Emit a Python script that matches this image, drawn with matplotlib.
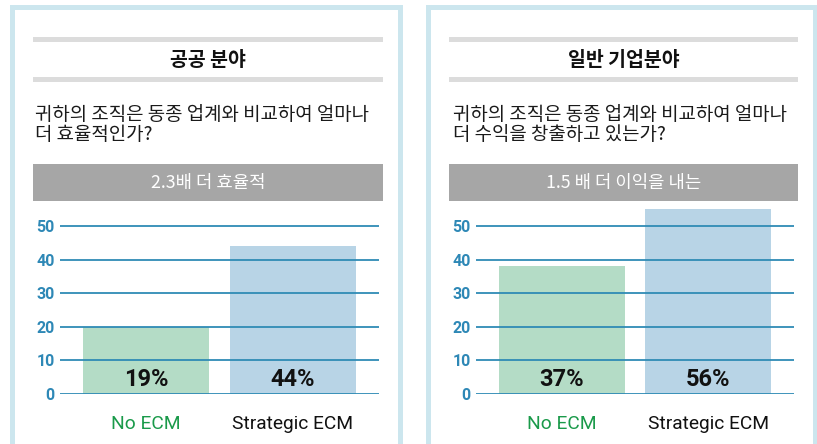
import matplotlib
matplotlib.use("Agg")
import matplotlib.pyplot as plt
from matplotlib.patches import Rectangle

# ---- data ----
categories = ["No ECM", "Strategic ECM"]
public_values = [20, 44]
public_labels = ["19%", "44%"]
corp_values = [38, 55]
corp_labels = ["37%", "56%"]
yticks = [0, 10, 20, 30, 40, 50]
titles = ["공공 분야", "일반 기업분야"]
questions = [["귀하의 조직은 동종 업계와 비교하여 얼마나", "더 효율적인가?"],
             ["귀하의 조직은 동종 업계와 비교하여 얼마나", "더 수익을 창출하고 있는가?"]]
banners = ["2.3배 더 효율적", "1.5 배 더 이익을 내는"]

W, H = 817, 444
fig = plt.figure(figsize=(W / 100, H / 100), dpi=100)
fig.patch.set_facecolor("white")

KR = ["Noto Sans CJK KR", "DejaVu Sans"]
COND = ["Roboto", "DejaVu Sans"]

BORDER = "#cce6ee"
GRAYLINE = "#dcdcdc"
BANNER = "#a6a6a6"
GRID = "#2f8bb5"
TICK = "#2e88b6"
GREEN_BAR = "#b4dcc6"
BLUE_BAR = "#b8d4e6"


def fx(px):
    return px / W


def fy(py):
    return 1 - py / H


def frect(x0, y0, x1, y1, color, **kw):
    fig.patches.append(Rectangle((fx(x0), fy(y1)), fx(x1) - fx(x0), fy(y0) - fy(y1),
                                 transform=fig.transFigure, facecolor=color,
                                 edgecolor="none", **kw))


panels = [
    dict(x0=10, x1=403, lx=33, rx=383, qx=35, ax_l=60, ax_r=379,
         values=public_values, labels=public_labels),
    dict(x0=426, x1=818, lx=449, rx=798, qx=453, ax_l=476, ax_r=794,
         values=corp_values, labels=corp_labels),
]

for i, p in enumerate(panels):
    # light blue frame (left, top, right)
    frect(p["x0"], 5, p["x0"] + 5, H + 5, BORDER)
    frect(p["x1"] - 5, 5, p["x1"], H + 5, BORDER)
    frect(p["x0"], 5, p["x1"], 10, BORDER)
    # gray rules
    frect(p["lx"], 37, p["rx"], 42, GRAYLINE)
    frect(p["lx"], 77, p["rx"], 82, GRAYLINE)
    cx = (p["lx"] + p["rx"]) / 2
    fig.text(fx(cx), fy(60), titles[i], ha="center", va="center",
             fontsize=14, fontweight="bold", family=KR, color="#111111")
    for k, line in enumerate(questions[i]):
        fig.text(fx(p["qx"]), fy(115 + 19 * k), line, ha="left", va="center",
                 fontsize=13.6, family=KR, color="#1a1a1a")
    frect(p["lx"], 164, p["rx"], 201, BANNER)
    fig.text(fx(cx), fy(183), banners[i], ha="center", va="center",
             fontsize=12.8, family=KR, color="white")

    # bar chart axes
    top_px = 205
    bottom_px = 394
    ax = fig.add_axes([fx(p["ax_l"]), fy(bottom_px), fx(p["ax_r"]) - fx(p["ax_l"]),
                       fy(top_px) - fy(bottom_px)])
    ax.patch.set_alpha(0)
    ymax = (bottom_px - top_px) / 3.36
    ax.set_ylim(0, ymax)
    ax.set_xlim(-0.585, 1.585)
    ax.bar([0, 1], p["values"], width=0.857, color=[GREEN_BAR, BLUE_BAR], zorder=1)
    for t in yticks:
        ax.axhline(t, color=GRID, lw=1.3, zorder=2)
    for j, lab in enumerate(p["labels"]):
        ax.text(j, 4.4, lab, ha="center", va="center", fontsize=17,
                fontweight="bold", family=COND, color="#111111", zorder=3)
    for s in ax.spines.values():
        s.set_visible(False)
    ax.set_yticks(yticks)
    ax.set_yticklabels([str(t) for t in yticks], fontsize=11.5, fontweight="bold",
                       family=COND, color=TICK)
    ax.tick_params(axis="y", length=0, pad=4)
    ax.set_xticks([0, 1])
    ax.set_xticklabels(categories, fontsize=13.8, family=COND)
    ax.get_xticklabels()[0].set_color("#1a9a4a")
    ax.get_xticklabels()[1].set_color("#111111")
    ax.tick_params(axis="x", length=0, pad=15)

fig.savefig("out.png", dpi=100, facecolor="white")
